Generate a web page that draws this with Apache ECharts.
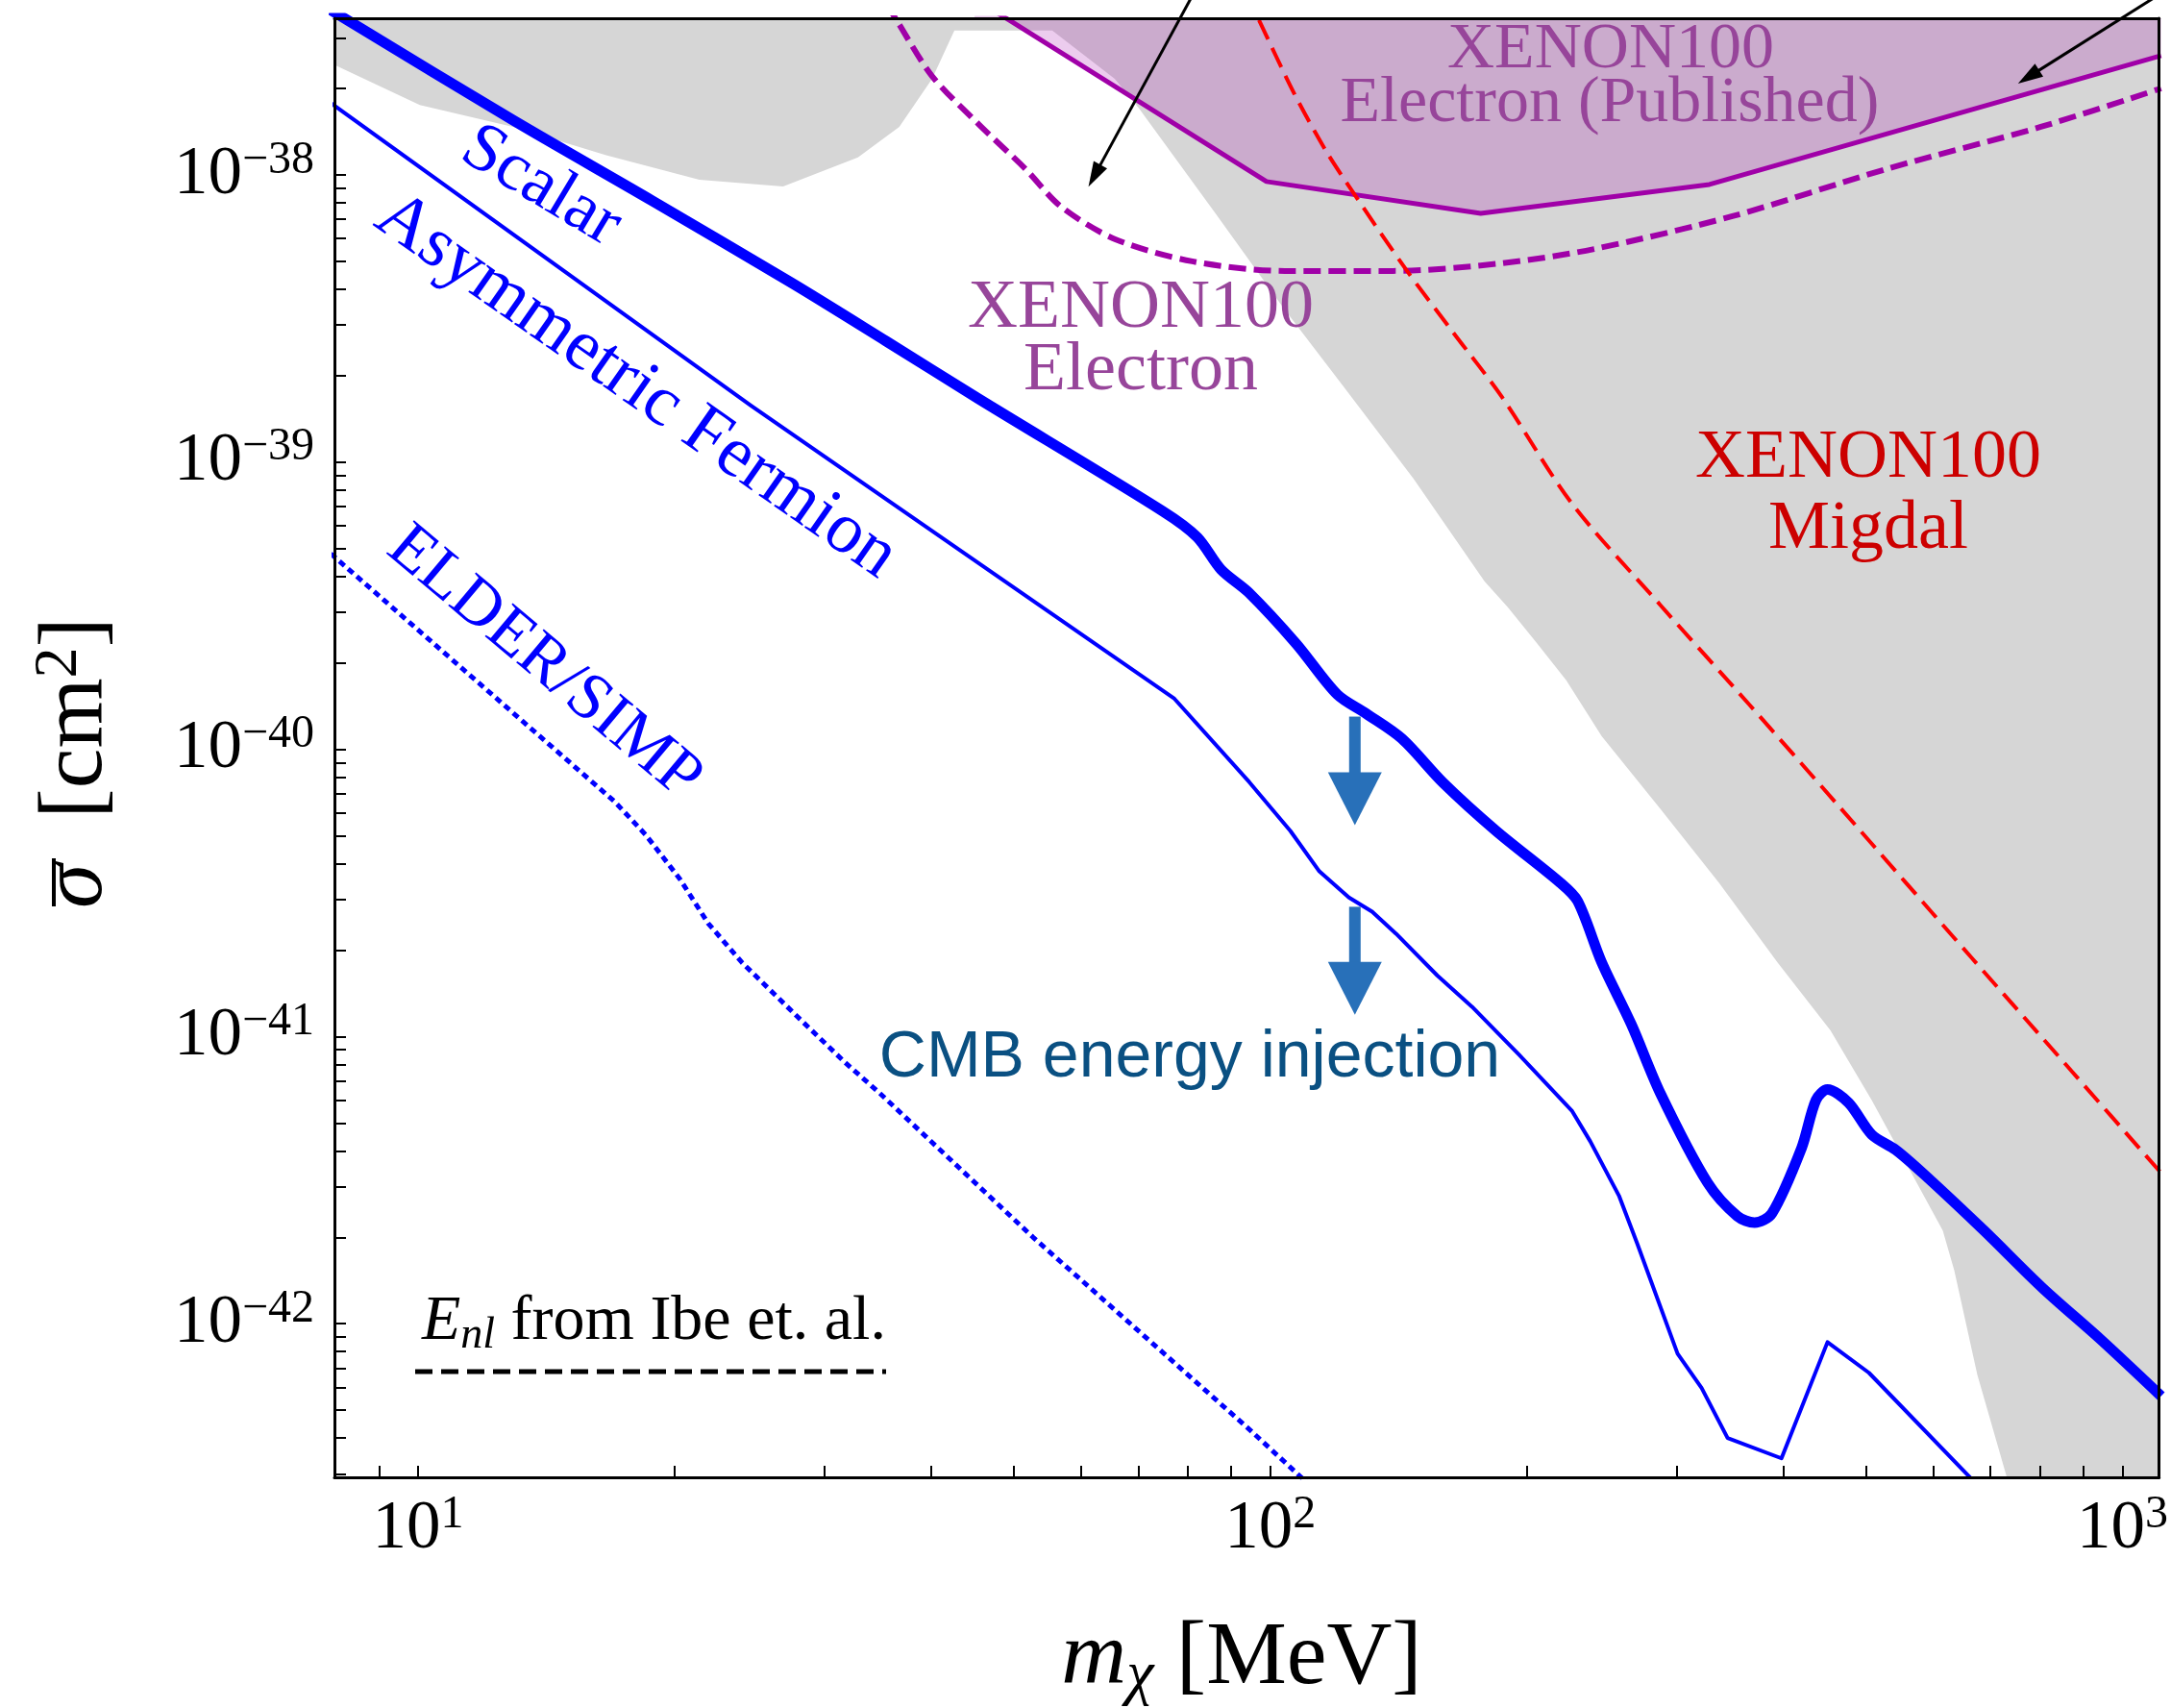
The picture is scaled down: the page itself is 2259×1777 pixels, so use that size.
<!DOCTYPE html>
<html>
<head>
<meta charset="utf-8">
<script src="https://cdn.jsdelivr.net/npm/echarts@6/dist/echarts.min.js"></script>
<style>
html, body { margin: 0; padding: 0; background: #fff; }
#main { width: 2259px; height: 1777px; }
</style>
</head>
<body>
<div id="main"></div>
<script>
var SERIF = '"Liberation Serif", "DejaVu Serif", serif';
var SANS = '"Liberation Sans", Arial, sans-serif';

// curves: [m_chi (MeV), sigma (cm^2)]
var scalar = [
  [7.9, 3.75e-38], [12.93, 1.55e-38], [18.84, 8.12e-39], [27.5, 4.19e-39], [35.4, 2.64e-39],
  [45.5, 1.66e-39], [74.8, 6.75e-40], [82.1, 5.48e-40], [87.6, 4.22e-40],
  [94.4, 3.51e-40], [107.3, 2.33e-40], [119.9, 1.55e-40], [129.7, 1.33e-40], [142.7, 1.09e-40],
  [159.6, 7.64e-41], [184.1, 5.20e-41], [219.0, 3.43e-41], [229.5, 2.96e-41], [244.9, 1.81e-41],
  [265.4, 1.10e-41], [286.9, 6.35e-42], [325.9, 3.10e-42], [353.2, 2.37e-42], [370.1, 2.25e-42],
  [387.8, 2.42e-42], [420.2, 4.09e-42], [436.9, 6.01e-42], [450.7, 6.54e-42], [477.2, 5.88e-42],
  [507.8, 4.56e-42], [542.0, 4.03e-42], [585.9, 3.30e-42], [688.0, 2.11e-42], [806.2, 1.33e-42],
  [944.6, 8.77e-43], [1110, 5.6e-43]
];
var asymFermion = [
  [7.9, 1.78e-38], [24.6, 1.57e-39], [77.2, 1.50e-40], [94.5, 7.69e-41], [105.6, 5.20e-41],
  [114.2, 3.76e-41], [123.7, 3.05e-41], [131.7, 2.72e-41], [140.5, 2.28e-41], [157.1, 1.63e-41],
  [172.5, 1.27e-41], [195.9, 8.64e-42], [225.9, 5.52e-42], [237.4, 4.32e-42], [256.6, 2.79e-42],
  [269.6, 1.90e-42], [300.6, 7.87e-43], [320.8, 5.97e-43], [344.1, 4.00e-43], [398.0, 3.40e-43],
  [450.7, 8.63e-43], [504.1, 6.75e-43], [670.6, 2.81e-43], [700, 2.4e-43]
];
var elderSimp = [
  [7.9, 4.8e-40], [17.0, 6.59e-41], [18.5, 5.04e-41], [20.3, 3.53e-41], [21.9, 2.48e-41],
  [24.0, 1.81e-41], [27.9, 1.17e-41], [31.7, 8.13e-42], [34.8, 6.36e-42], [52.7, 2.00e-42],
  [94.5, 4.29e-43], [122, 2.13e-43]
];
var xenonPublished = [
  [45, 4.1e-38], [49.6, 3.43e-38], [99.0, 9.48e-39], [176.6, 7.35e-39], [327.6, 9.26e-39],
  [1110, 2.6e-38]
];
var xenonElectron = [
  [34.2, 4.67e-38], [36.5, 3.43e-38], [40.1, 2.21e-38], [45.5, 1.50e-38], [51.6, 1.05e-38],
  [56.8, 7.76e-39], [65.8, 5.97e-39], [81.0, 5.00e-39], [104.0, 4.63e-39], [139.4, 4.63e-39],
  [186.5, 4.92e-39], [239.9, 5.52e-39], [348.6, 7.18e-39], [529.6, 1.05e-38], [802.1, 1.47e-38],
  [1110, 2.0e-38]
];
var xenonMigdal = [
  [93.5, 4.31e-38], [96.9, 3.48e-38], [106.7, 1.92e-38], [116.3, 1.21e-38], [125.7, 8.51e-39],
  [144.2, 4.70e-39], [164.2, 2.81e-39], [186.9, 1.69e-39], [225.9, 7.18e-40], [286.9, 3.18e-40],
  [364.2, 1.44e-40], [462.6, 6.44e-41], [665.3, 1.88e-41], [871.3, 7.59e-42], [1110, 3.35e-42]
];
// lower edge of the grey excluded region
var excluded = [
  [7.9, 2.45e-38], [10.05, 1.75e-38], [12.93, 1.47e-38], [16.63, 1.17e-38], [21.39, 9.62e-39],
  [26.82, 9.12e-39], [32.83, 1.15e-38], [36.71, 1.47e-38], [40.11, 2.16e-38], [42.6, 3.18e-38],
  [55.5, 3.18e-38], [65.7, 2.16e-38], [70.08, 1.71e-38], [86.25, 7.35e-39], [103.96, 3.40e-39],
  [121.8, 1.84e-39], [147.2, 8.77e-40], [178.4, 3.85e-40], [189.9, 3.13e-40], [205.8, 2.33e-40],
  [222.5, 1.74e-40], [244.9, 1.11e-40], [286.9, 6.21e-41], [336.2, 3.43e-41], [393.9, 1.81e-41],
  [454.3, 1.05e-41], [507.8, 6.01e-42], [542.0, 4.22e-42], [615.4, 2.11e-42], [634.9, 1.53e-42],
  [675.6, 6.65e-43], [732.2, 2.9e-43], [760, 1.5e-43], [1200, 1.5e-43]
];

// annotation arrows [from, to] in data coords
var cmbArrows = [
  [[125.7, 1.30e-40], [125.7, 5.44e-41]],
  [[125.7, 2.83e-41], [125.7, 1.19e-41]]
];
var pointerArrows = [
  [[81.0, 4.2e-38], [61.2, 9.1e-39]],
  [[1098, 4.2e-38], [754, 2.08e-38]]
];

// axes
var xRange = [7.98, 1104];
var yRange = [2.92e-43, 3.51e-38];
var xMajor = [10, 100, 1000];
var yMajor = [1e-42, 1e-41, 1e-40, 1e-39, 1e-38];
var mantissas = [1, 2, 3, 4, 5, 6, 7, 8, 9];

function lg(p) { return [Math.log10(p[0]), Math.log10(p[1])]; }

function tickList(range, decades) {
  var out = [];
  decades.forEach(function (d) {
    mantissas.forEach(function (k) {
      var v = Math.log10(k * d);
      if (v >= Math.log10(range[0]) && v <= Math.log10(range[1])) out.push(v);
    });
  });
  return out;
}

var xTicks = tickList(xRange, [1, 10, 100, 1000]);
var yTicks = tickList(yRange, [1e-43, 1e-42, 1e-41, 1e-40, 1e-39, 1e-38]);

var labelRich = {
  b: { fontFamily: SERIF, fontSize: 71, lineHeight: 78, color: '#000' },
  s: { fontFamily: SERIF, fontSize: 48, lineHeight: 30, verticalAlign: 'top', color: '#000' }
};

var dom = document.getElementById('main');
var myChart = echarts.init(dom);

var frame = { show: true, onZero: false, lineStyle: { color: '#000', width: 3 } };

function curve(data, color, width, type, smooth, z) {
  return {
    type: 'line', data: data.map(lg), symbol: 'none', smooth: smooth,
    z: z, silent: true, clip: true,
    lineStyle: { color: color, width: width, type: type, cap: 'butt', join: 'round' }
  };
}

var option = {
  animation: false,
  backgroundColor: '#fff',
  grid: { left: 348, right: 12, top: 19, bottom: 240, containLabel: false },
  xAxis: [{
    type: 'value', min: Math.log10(xRange[0]), max: Math.log10(xRange[1]), z: 10,
    axisLine: frame,
    axisTick: { show: true, inside: true, length: 12, customValues: xTicks,
      lineStyle: { color: '#000', width: 2 } },
    axisLabel: {
      customValues: xMajor.map(Math.log10), margin: 15,
      formatter: function (v) { return '{b|10}{s|' + Math.round(v) + '}'; },
      rich: labelRich
    },
    splitLine: { show: false }
  }, {
    type: 'value', position: 'top', min: Math.log10(xRange[0]), max: Math.log10(xRange[1]), z: 10,
    axisLine: frame, axisTick: { show: false }, axisLabel: { show: false }, splitLine: { show: false }
  }],
  yAxis: [{
    type: 'value', min: Math.log10(yRange[0]), max: Math.log10(yRange[1]), z: 10,
    axisLine: frame,
    axisTick: { show: true, inside: true, length: 12, customValues: yTicks,
      lineStyle: { color: '#000', width: 2 } },
    axisLabel: {
      customValues: yMajor.map(Math.log10), margin: 21,
      formatter: function (v) { return '{b|10}{s|\u2212' + Math.abs(Math.round(v)) + '}'; },
      rich: labelRich
    },
    splitLine: { show: false }
  }, {
    type: 'value', position: 'right', min: Math.log10(yRange[0]), max: Math.log10(yRange[1]), z: 10,
    axisLine: frame, axisTick: { show: false }, axisLabel: { show: false }, splitLine: { show: false }
  }],
  series: [
    {
      type: 'line', data: excluded.map(lg), symbol: 'none', z: 1, silent: true,
      lineStyle: { opacity: 0 },
      areaStyle: { color: '#d6d6d6', opacity: 1, origin: 'end' }
    },
    {
      type: 'line', data: xenonPublished.map(lg), symbol: 'none', z: 2, silent: true,
      lineStyle: { color: '#a000a8', width: 5 },
      areaStyle: { color: 'rgba(160,0,170,0.2)', opacity: 1, origin: 'end' }
    },
    curve(xenonElectron, '#a000a8', 6, [18, 8], 0.3, 3),
    curve(xenonMigdal, '#ff0000', 4, [22, 10], 0.3, 4),
    curve(elderSimp, '#0000ff', 5, [7, 5], false, 5),
    curve(asymFermion, '#0000ff', 4, 'solid', false, 5),
    curve(scalar, '#0000ff', 11, 'solid', 0.3, 6)
  ]
};

myChart.setOption(option);

function px(p) { return myChart.convertToPixel({ seriesIndex: 0 }, lg(p)); }

function arrow(from, to, color, width, headLen, headHalf) {
  var dx = to[0] - from[0], dy = to[1] - from[1];
  var L = Math.sqrt(dx * dx + dy * dy);
  var ux = dx / L, uy = dy / L;
  var bx = to[0] - ux * headLen, by = to[1] - uy * headLen;
  return [
    { type: 'line', z: 40, shape: { x1: from[0], y1: from[1], x2: bx + ux * 2, y2: by + uy * 2 },
      style: { stroke: color, lineWidth: width } },
    { type: 'polygon', z: 40,
      shape: { points: [to, [bx - uy * headHalf, by + ux * headHalf], [bx + uy * headHalf, by - ux * headHalf]] },
      style: { fill: color } }
  ];
}

function txt(x, y, text, font, color, rot) {
  return { type: 'text', x: x, y: y, z: 50, rotation: (rot || 0) * Math.PI / 180,
    style: { text: text, font: font, fill: color, align: 'center', verticalAlign: 'middle' } };
}

var graphics = [];
pointerArrows.forEach(function (a) {
  graphics = graphics.concat(arrow(px(a[0]), px(a[1]), '#000', 3, 26, 8));
});
cmbArrows.forEach(function (a) {
  graphics = graphics.concat(arrow(px(a[0]), px(a[1]), '#2870b9', 12, 55, 28));
});

var purple = '#97459a';
graphics.push(
  txt(563, 194, 'Scalar', '72px ' + SERIF, '#0000ff', -31),
  txt(662, 402, 'Asymmetric Fermion', '75px ' + SERIF, '#0000ff', -35),
  txt(566, 690, 'ELDER/SIMP', '69px ' + SERIF, '#0000ff', -40),
  txt(1676, 52, 'XENON100', '68px ' + SERIF, purple),
  txt(1675, 108, 'Electron (Published)', '68px ' + SERIF, purple),
  txt(1187, 321, 'XENON100', '72px ' + SERIF, purple),
  txt(1187, 386, 'Electron', '72px ' + SERIF, purple),
  txt(1944, 477, 'XENON100', '72px ' + SERIF, '#cc0000'),
  txt(1944, 551, 'Migdal', '72px ' + SERIF, '#cc0000'),
  txt(1238, 1101, 'CMB energy injection', '68px ' + SANS, '#0a5082')
);

// legend entry
graphics.push({
  type: 'text', x: 439, y: 1376, z: 50,
  style: {
    text: '{e|E}{n|nl}{r| from Ibe et. al.}', align: 'left', verticalAlign: 'middle',
    rich: {
      e: { fontFamily: SERIF, fontStyle: 'italic', fontSize: 66, lineHeight: 74, fill: '#000' },
      n: { fontFamily: SERIF, fontStyle: 'italic', fontSize: 46, lineHeight: 40, verticalAlign: 'bottom', fill: '#000' },
      r: { fontFamily: SERIF, fontSize: 66, lineHeight: 74, fill: '#000' }
    }
  }
});
graphics.push({
  type: 'line', z: 50, shape: { x1: 432, y1: 1427, x2: 922, y2: 1427 },
  style: { stroke: '#000', lineWidth: 5, lineDash: [18, 9] }
});

// axis titles
graphics.push({
  type: 'text', x: 1292, y: 1726, z: 50,
  style: {
    text: '{m|m}{c|\u03C7}{r| [MeV]}', align: 'center', verticalAlign: 'middle',
    rich: {
      m: { fontFamily: SERIF, fontStyle: 'italic', fontSize: 94, lineHeight: 100, fill: '#000' },
      c: { fontFamily: SERIF, fontStyle: 'italic', fontSize: 64, lineHeight: 50, verticalAlign: 'bottom', fill: '#000' },
      r: { fontFamily: SERIF, fontSize: 94, lineHeight: 100, fill: '#000' }
    }
  }
});
graphics.push({
  type: 'group', x: 80, y: 781, rotation: Math.PI / 2, z: 50,
  children: [{
    type: 'text', x: -164, y: 0, z: 50,
    style: {
      text: '{s|\u03C3}{r|  [cm}{p|2}{r|]}', align: 'left', verticalAlign: 'middle',
      rich: {
        s: { fontFamily: SERIF, fontStyle: 'italic', fontSize: 94, lineHeight: 100, fill: '#000' },
        r: { fontFamily: SERIF, fontSize: 94, lineHeight: 100, fill: '#000' },
        p: { fontFamily: SERIF, fontSize: 64, lineHeight: 50, verticalAlign: 'top', fill: '#000' }
      }
    }
  }, {
    type: 'line', z: 50, shape: { x1: -162, y1: -24, x2: -112, y2: -24 },
    style: { stroke: '#000', lineWidth: 4 }
  }]
});

myChart.setOption({ graphic: graphics });
</script>
</body>
</html>
